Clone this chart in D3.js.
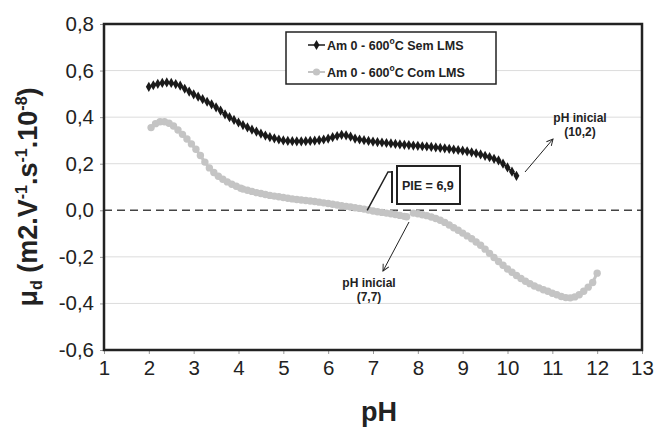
<!DOCTYPE html>
<html>
<head>
<meta charset="utf-8">
<script src="https://cdn.jsdelivr.net/npm/d3@7"></script>
<style>
  body { margin: 0; background: #fff; }
  text { font-family: Arial, "Liberation Sans", sans-serif; }
</style>
</head>
<body>
<script>
var width = 657;
var height = 427;

var margin = { top: 24, right: 15, bottom: 77, left: 104 };

// Am 0 - 600°C Sem LMS (black diamonds)
var semPH = [2.0, 2.1, 2.2, 2.3, 2.4, 2.5, 2.6, 2.7, 2.8, 2.9, 3.0, 3.1, 3.2, 3.3, 3.4, 3.5, 3.6, 3.7, 3.8, 3.9,
    4.0, 4.1, 4.2, 4.3, 4.4, 4.5, 4.6, 4.7, 4.8, 4.9, 5.0, 5.1, 5.2, 5.3, 5.4, 5.5, 5.6, 5.7, 5.8, 5.9,
    6.0, 6.1, 6.2, 6.3, 6.4, 6.5, 6.6, 6.7, 6.8, 6.9, 7.0, 7.1, 7.2, 7.3, 7.4, 7.5, 7.6, 7.7, 7.8, 7.9,
    8.0, 8.1, 8.2, 8.3, 8.4, 8.5, 8.6, 8.7, 8.8, 8.9, 9.0, 9.1, 9.2, 9.3, 9.4, 9.5, 9.6, 9.7, 9.8, 9.9,
    10.0, 10.1, 10.2];
var semMu = [0.530, 0.537, 0.543, 0.547, 0.549, 0.547, 0.542, 0.535, 0.522, 0.510, 0.498, 0.488, 0.477, 0.466, 0.455, 0.442, 0.428, 0.412, 0.400, 0.388,
    0.377, 0.366, 0.356, 0.346, 0.338, 0.329, 0.321, 0.314, 0.309, 0.304, 0.300, 0.298, 0.297, 0.296, 0.296, 0.297, 0.298, 0.299, 0.301, 0.304,
    0.308, 0.314, 0.319, 0.324, 0.322, 0.316, 0.308, 0.304, 0.301, 0.298, 0.295, 0.293, 0.291, 0.289, 0.287, 0.285, 0.283, 0.281, 0.280, 0.278,
    0.277, 0.275, 0.274, 0.272, 0.270, 0.268, 0.266, 0.264, 0.261, 0.259, 0.256, 0.253, 0.249, 0.245, 0.240, 0.234, 0.228, 0.221, 0.214, 0.200,
    0.184, 0.166, 0.148];

// Am 0 - 600°C Com LMS (gray circles), null marks the break at the initial pH
var comPH = [2.05, 2.15, 2.25, 2.35, 2.45, 2.55, 2.65, 2.75, 2.85, 2.95, 3.05, 3.15, 3.25, 3.35, 3.45, 3.55, 3.65, 3.75, 3.85, 3.95,
    4.05, 4.1, 4.2, 4.3, 4.4, 4.5, 4.6, 4.7, 4.8, 4.9, 5.0, 5.1, 5.2, 5.3, 5.4, 5.5, 5.6, 5.7, 5.8, 5.9,
    6.0, 6.1, 6.2, 6.3, 6.4, 6.5, 6.6, 6.7, 6.8, 6.9, 7.0, 7.1, 7.2, 7.3, 7.4, 7.5, 7.6, 7.7, 7.75, 7.8,
    7.9, 8.0, 8.1, 8.2, 8.3, 8.4, 8.5, 8.6, 8.7, 8.8, 8.9, 9.0, 9.1, 9.2, 9.3, 9.4, 9.5, 9.6, 9.7, 9.8,
    9.9, 10.0, 10.1, 10.2, 10.3, 10.4, 10.5, 10.6, 10.7, 10.8, 10.9, 11.0, 11.1, 11.2, 11.3, 11.4, 11.5, 11.6, 11.7, 11.8,
    11.9, 12.0];
var comMu = [0.355, 0.372, 0.380, 0.380, 0.374, 0.362, 0.345, 0.326, 0.306, 0.285, 0.262, 0.235, 0.207, 0.182, 0.162, 0.146, 0.133, 0.122, 0.112, 0.103,
    0.095, 0.091, 0.086, 0.081, 0.076, 0.072, 0.068, 0.064, 0.061, 0.058, 0.055, 0.052, 0.049, 0.046, 0.044, 0.042, 0.040, 0.038, 0.035, 0.032,
    0.029, 0.026, 0.023, 0.020, 0.017, 0.014, 0.011, 0.008, 0.005, 0.001, -0.003, -0.006, -0.009, -0.012, -0.015, -0.018, -0.022, -0.026, -0.028, null,
    -0.012, -0.015, -0.019, -0.023, -0.029, -0.035, -0.043, -0.052, -0.063, -0.075, -0.086, -0.098, -0.110, -0.122, -0.136, -0.150, -0.167, -0.185, -0.203, -0.220,
    -0.236, -0.252, -0.266, -0.280, -0.293, -0.305, -0.315, -0.325, -0.333, -0.341, -0.348, -0.356, -0.363, -0.370, -0.375, -0.376, -0.372, -0.363, -0.348, -0.330,
    -0.310, -0.270];

var xTicks = [1, 2, 3, 4, 5, 6, 7, 8, 9, 10, 11, 12, 13];
var yTicks = [-0.6, -0.4, -0.2, 0, 0.2, 0.4, 0.6, 0.8];

var seriesNames = ['Am 0 - 600', 'Am 0 - 600'];

var svg = d3.select('body')
    .append('svg')
    .attr('width', width)
    .attr('height', height);

var x = d3.scaleLinear().domain([1, 13]).range([margin.left, width - margin.right]);
var y = d3.scaleLinear().domain([-0.6, 0.8]).range([height - margin.bottom, margin.top]);

// grid
svg.append('g')
    .selectAll('line')
    .data(yTicks.filter(function(d) { return d !== 0 && d !== 0.8 && d !== -0.6; }))
    .enter()
    .append('line')
    .attr('x1', x(1)).attr('x2', x(13))
    .attr('y1', function(d) { return y(d); })
    .attr('y2', function(d) { return y(d); })
    .attr('stroke', '#dcdcdc')
    .attr('stroke-width', 1);

// zero line
svg.append('line')
    .attr('x1', x(1)).attr('x2', x(13))
    .attr('y1', y(0)).attr('y2', y(0))
    .attr('stroke', '#444')
    .attr('stroke-width', 1.5)
    .attr('stroke-dasharray', '8,5');

var fmt = function(d) { return d3.format('.1f')(d).replace('.', ',').replace('−', '-'); };

var yAxis = svg.append('g')
    .attr('transform', 'translate(' + x(1) + ',0)')
    .call(d3.axisLeft(y).tickValues(yTicks).tickSize(4).tickPadding(6).tickFormat(fmt));
var xAxis = svg.append('g')
    .attr('transform', 'translate(0,' + y(-0.6) + ')')
    .call(d3.axisBottom(x).tickValues(xTicks).tickSize(4).tickPadding(6).tickFormat(d3.format('d')));

[xAxis, yAxis].forEach(function(a) {
    a.select('.domain').remove();
    a.selectAll('.tick line').attr('stroke', '#999');
    a.selectAll('.tick text')
        .attr('font-size', 20.5)
        .attr('fill', '#222')
        .style('font-family', 'Arial, "Liberation Sans", sans-serif');
});

// frame
svg.append('rect')
    .attr('x', x(1)).attr('y', y(0.8))
    .attr('width', x(13) - x(1))
    .attr('height', y(-0.6) - y(0.8))
    .attr('fill', 'none')
    .attr('stroke', '#222')
    .attr('stroke-width', 2.5);

// series
var comData = comPH.map(function(d, i) { return [d, comMu[i]]; });
var semData = semPH.map(function(d, i) { return [d, semMu[i]]; });

var line = d3.line()
    .defined(function(d) { return d[1] !== null; })
    .x(function(d) { return x(d[0]); })
    .y(function(d) { return y(d[1]); });

svg.append('path')
    .attr('d', line(comData))
    .attr('fill', 'none')
    .attr('stroke', '#c4c4c4')
    .attr('stroke-width', 3);
svg.append('g')
    .selectAll('circle')
    .data(comData.filter(function(d) { return d[1] !== null; }))
    .enter()
    .append('circle')
    .attr('cx', function(d) { return x(d[0]); })
    .attr('cy', function(d) { return y(d[1]); })
    .attr('r', 3.7)
    .attr('fill', '#c4c4c4');

svg.append('path')
    .attr('d', line(semData))
    .attr('fill', 'none')
    .attr('stroke', '#1a1a1a')
    .attr('stroke-width', 1.8);
var diamond = d3.symbol().type(d3.symbolDiamond).size(30);
svg.append('g')
    .selectAll('path')
    .data(semData)
    .enter()
    .append('path')
    .attr('transform', function(d) { return 'translate(' + x(d[0]) + ',' + y(d[1]) + ')'; })
    .attr('d', diamond)
    .attr('fill', '#1a1a1a');

// legend
var legend = svg.append('g');
legend.append('rect')
    .attr('x', 286).attr('y', 32)
    .attr('width', 210).attr('height', 52)
    .attr('fill', '#fff')
    .attr('stroke', '#222')
    .attr('stroke-width', 1.5);

var legendItems = [
    { name: seriesNames[0], tail: ' Sem LMS', color: '#1a1a1a', dia: true, y: 45 },
    { name: seriesNames[1], tail: ' Com LMS', color: '#c4c4c4', dia: false, y: 72 }
];
legendItems.forEach(function(it) {
    legend.append('line')
        .attr('x1', 308).attr('x2', 325)
        .attr('y1', it.y).attr('y2', it.y)
        .attr('stroke', it.color)
        .attr('stroke-width', it.dia ? 1.5 : 2);
    if (it.dia) {
        legend.append('path')
            .attr('transform', 'translate(316.5,' + it.y + ')')
            .attr('d', diamond)
            .attr('fill', it.color);
    } else {
        legend.append('circle')
            .attr('cx', 316.5).attr('cy', it.y).attr('r', 3.6)
            .attr('fill', it.color);
    }
    var t = legend.append('text')
        .attr('x', 327).attr('y', it.y + 4.5)
        .attr('font-size', 12.5)
        .attr('font-weight', 'bold')
        .attr('fill', '#222');
    t.append('tspan').text(it.name);
    t.append('tspan').attr('font-size', 8.5).attr('dy', -5.5).text('o');
    t.append('tspan').attr('dy', 5.5).text('C' + it.tail);
});

// arrow marker
svg.append('defs').append('marker')
    .attr('id', 'arr')
    .attr('viewBox', '0 0 10 10')
    .attr('refX', 9).attr('refY', 5)
    .attr('markerWidth', 8).attr('markerHeight', 8)
    .attr('orient', 'auto')
    .append('path')
    .attr('d', 'M1,1 L9,5 L1,9')
    .attr('fill', 'none')
    .attr('stroke', '#222')
    .attr('stroke-width', 1.2);

// annotations
function note(cx, y0, lines) {
    lines.forEach(function(s, i) {
        svg.append('text')
            .attr('x', cx).attr('y', y0 + i * 14)
            .attr('text-anchor', 'middle')
            .attr('font-size', 12)
            .attr('font-weight', 'bold')
            .attr('fill', '#222')
            .text(s);
    });
}
note(580, 122, ['pH inicial', '(10,2)']);
note(369, 287, ['pH inicial', '(7,7)']);

svg.append('line')
    .attr('x1', 525).attr('y1', 172).attr('x2', 553).attr('y2', 139)
    .attr('stroke', '#222').attr('stroke-width', 1)
    .attr('marker-end', 'url(#arr)');
svg.append('line')
    .attr('x1', 409).attr('y1', 222).attr('x2', 383).attr('y2', 271)
    .attr('stroke', '#222').attr('stroke-width', 1)
    .attr('marker-end', 'url(#arr)');

// PIE callout
svg.append('path')
    .attr('d', 'M' + x(6.87) + ',' + y(0) + ' L388,172 L392,172')
    .attr('fill', 'none')
    .attr('stroke', '#222')
    .attr('stroke-width', 1.5);
svg.append('line')
    .attr('x1', 392).attr('x2', 392).attr('y1', 171).attr('y2', 203)
    .attr('stroke', '#222').attr('stroke-width', 2);
svg.append('rect')
    .attr('x', 397).attr('y', 166).attr('width', 63).attr('height', 38)
    .attr('fill', '#fff').attr('stroke', '#222').attr('stroke-width', 2);
svg.append('text')
    .attr('x', 402).attr('y', 190)
    .attr('font-size', 12.5)
    .attr('font-weight', 'bold')
    .attr('fill', '#222')
    .text('PIE = 6,9');

// axis titles
svg.append('text')
    .attr('x', 379).attr('y', 421)
    .attr('text-anchor', 'middle')
    .attr('font-size', 27)
    .attr('font-weight', 'bold')
    .attr('fill', '#222')
    .text('pH');

var yt = svg.append('text')
    .attr('transform', 'translate(37,197) rotate(-90)')
    .attr('text-anchor', 'middle')
    .attr('font-size', 27)
    .attr('font-weight', 'bold')
    .attr('fill', '#222');
yt.append('tspan').text('μ');
yt.append('tspan').attr('font-size', 16).attr('dy', 5).text('d');
yt.append('tspan').attr('dy', -5).text(' (m2.V');
yt.append('tspan').attr('font-size', 16).attr('dy', -10).text('-1');
yt.append('tspan').attr('dy', 10).text('.s');
yt.append('tspan').attr('font-size', 16).attr('dy', -10).text('-1');
yt.append('tspan').attr('dy', 10).text('.10');
yt.append('tspan').attr('font-size', 16).attr('dy', -10).text('-8');
yt.append('tspan').attr('dy', 10).text(')');
</script>
</body>
</html>
